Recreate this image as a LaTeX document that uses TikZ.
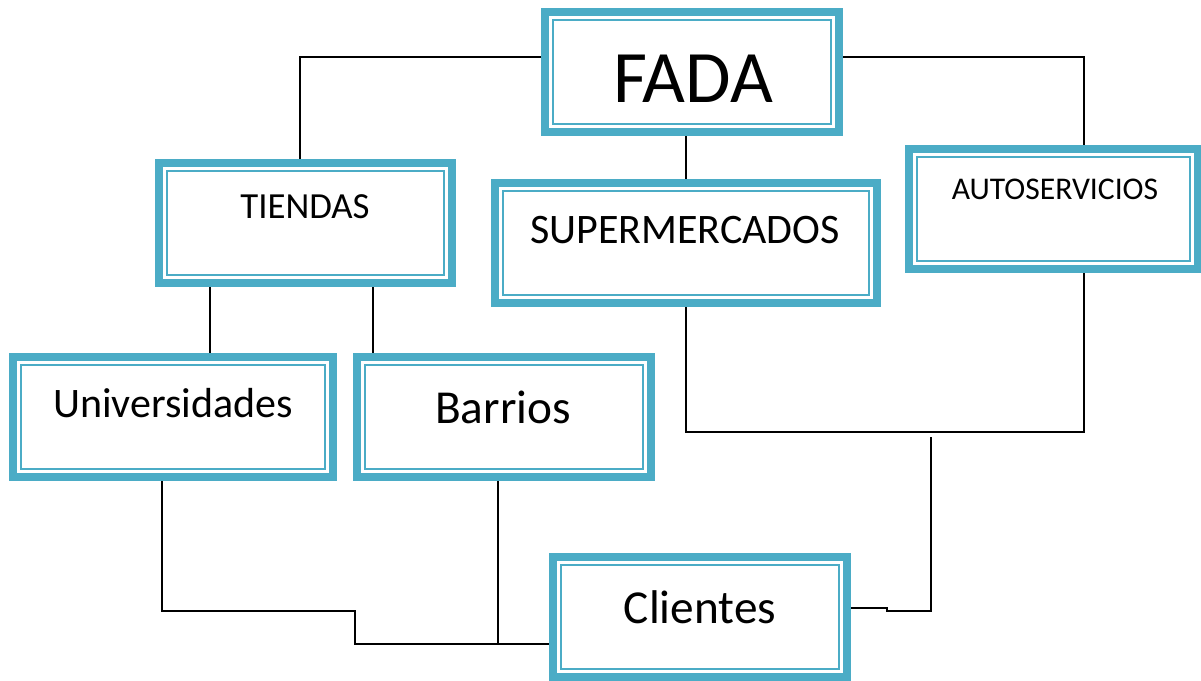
\documentclass[tikz,border=0pt]{standalone}
\usepackage{fontspec}
\setmainfont{Carlito}
\definecolor{boxteal}{HTML}{4BACC6}
\tikzset{
  dbox/.style={draw=boxteal, line width=8pt, outer sep=4pt, inner sep=0pt, fill=white,
    path picture={\draw[boxteal, line width=2pt]
      ([shift={(8pt,-8pt)}]path picture bounding box.north west) rectangle
      ([shift={(-8pt,8pt)}]path picture bounding box.south east);}},
  conn/.style={draw=black, line width=1.6pt},
  lbl/.style={anchor=base, inner sep=0pt, text=black}
}
\begin{document}
\begin{tikzpicture}[x=1pt,y=-1pt]
\useasboundingbox (0,0) rectangle (1201,680);
% boxes
\node[dbox, minimum width=294pt, minimum height=120pt] (fada) at (692,72) {};
\node[dbox, minimum width=293pt, minimum height=120pt] (tiendas) at (305.5,223) {};
\node[dbox, minimum width=382pt, minimum height=120pt] (super) at (686,243) {};
\node[dbox, minimum width=289pt, minimum height=120pt] (auto) at (1053.5,209) {};
\node[dbox, minimum width=320pt, minimum height=120pt] (univ) at (173,417) {};
\node[dbox, minimum width=294pt, minimum height=120pt] (barrios) at (504,417) {};
\node[dbox, minimum width=294pt, minimum height=120pt] (clientes) at (700,617) {};
% labels
\node[lbl, font=\fontsize{74}{80}\selectfont] (tfada) at (693,102) {FADA};
\node[lbl, font=\fontsize{36.8}{40}\selectfont] (ttiendas) at (305,218) {TIENDAS};
\node[lbl, font=\fontsize{42}{46}\selectfont] (tsuper) at (685,243) {SUPERMERCADOS};
\node[lbl, font=\fontsize{31.6}{34}\selectfont] (tauto) at (1055,199) {AUTOSERVICIOS};
\node[lbl, font=\fontsize{42}{46}\selectfont] (tuniv) at (173,417) {Universidades};
\node[lbl, font=\fontsize{47.3}{52}\selectfont] (tbarrios) at (503,423) {Barrios};
\node[lbl, font=\fontsize{47.3}{52}\selectfont] (tclientes) at (700,623) {Clientes};
% connector coordinates
\coordinate (tA) at ([xshift=-95.5pt]tiendas.south);
\coordinate (tB) at ([xshift=67.5pt]tiendas.south);
\coordinate (uB) at ([xshift=-11pt]univ.south);
\coordinate (bB) at ([xshift=-6pt]barrios.south);
\coordinate (sB) at (super.south);
\coordinate (aB) at ([xshift=30.5pt]auto.south);
\coordinate (jn) at (931,437);
% connectors
\draw[conn] ([yshift=15pt]fada.west) -| ([xshift=-5.5pt]tiendas.north);
\draw[conn] ([yshift=15pt]fada.east) -| ([xshift=30.5pt]auto.north);
\draw[conn] (super.north |- fada.south) -- (super.north);
\draw[conn] (tA) -- (tA |- univ.north);
\draw[conn] (tB) -- (tB |- barrios.north);
\draw[conn] (sB) -- ++(0,125) -| (aB);
\draw[conn] (jn) -- ++(0,174) -- ++(-44,0) -- ++(0,-3) -- ([yshift=9pt]clientes.east);
\draw[conn] (uB) -- ++(0,130) -| ++(193,33) -- ([yshift=-27pt]clientes.west);
\draw[conn] (bB) -- ++(0,164);
\end{tikzpicture}
\end{document}
